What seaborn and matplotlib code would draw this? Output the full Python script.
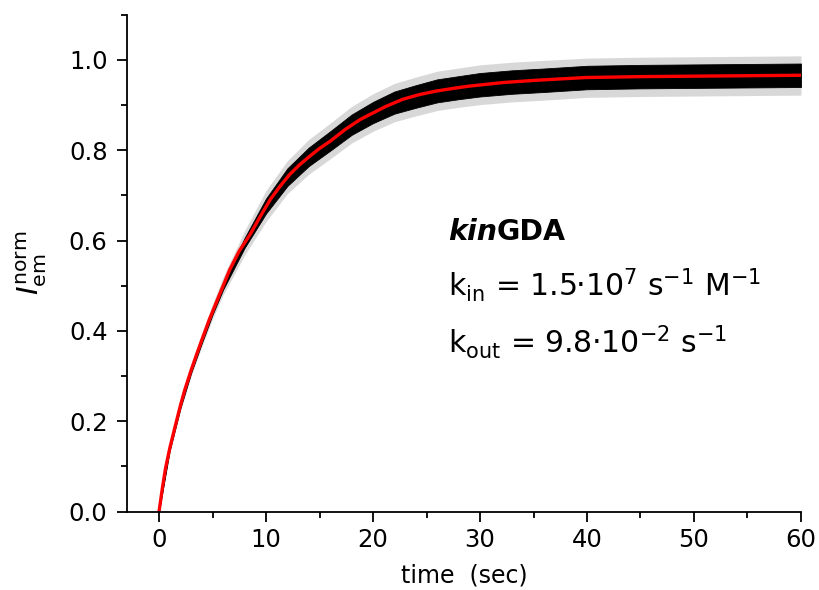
import matplotlib
matplotlib.use("Agg")
import matplotlib.pyplot as plt
import seaborn as sns
from matplotlib.ticker import MultipleLocator

# ---- data ----
t_fit = [0, 0.3, 0.6, 1.0, 1.5, 2.0, 2.4, 3.0, 3.5, 4.0, 4.7, 5.3, 6.1, 6.6, 7.5, 8.5,
         9.5, 10.4, 11.3, 12.2, 13.1, 14.1, 15.0, 16.0, 17.4, 18.8, 19.7, 21.2, 22.8,
         24.3, 25.9, 27.5, 29.0, 30.6, 32.2, 35.3, 39.9, 45.0, 50.0, 55.0, 60.0]
v_fit = [0.0, 0.050, 0.095, 0.140, 0.188, 0.235, 0.269, 0.313, 0.347, 0.380, 0.425,
         0.460, 0.506, 0.535, 0.577, 0.613, 0.655, 0.691, 0.720, 0.746, 0.767, 0.787,
         0.804, 0.820, 0.846, 0.868, 0.879, 0.897, 0.913, 0.923, 0.931, 0.937, 0.942,
         0.946, 0.950, 0.955, 0.961, 0.963, 0.964, 0.965, 0.966]

t_env = [0, 1, 2, 3, 4, 5, 6, 8, 10, 12, 14, 16, 18, 20, 22, 24, 26, 28, 30, 33, 36,
         40, 45, 50, 55, 60]
# dense black core of the noisy trace
v_hi = [0.004, 0.145, 0.241, 0.319, 0.387, 0.450, 0.508, 0.606, 0.693, 0.760, 0.806,
        0.842, 0.879, 0.907, 0.930, 0.944, 0.957, 0.964, 0.971, 0.977, 0.981, 0.987,
        0.989, 0.990, 0.991, 0.992]
v_lo = [0.000, 0.135, 0.229, 0.307, 0.373, 0.436, 0.492, 0.584, 0.660, 0.721, 0.765,
        0.799, 0.834, 0.860, 0.881, 0.894, 0.906, 0.913, 0.919, 0.925, 0.929, 0.935,
        0.937, 0.938, 0.939, 0.940]
# extent of the sparse grey spikes
v_spike_hi = [0.006, 0.150, 0.247, 0.326, 0.395, 0.460, 0.520, 0.622, 0.711, 0.777,
              0.824, 0.860, 0.897, 0.925, 0.948, 0.962, 0.975, 0.982, 0.989, 0.995,
              0.999, 1.004, 1.006, 1.007, 1.008, 1.009]
v_spike_lo = [0.000, 0.130, 0.223, 0.300, 0.365, 0.426, 0.480, 0.568, 0.642, 0.704,
              0.747, 0.781, 0.816, 0.842, 0.863, 0.876, 0.888, 0.895, 0.901, 0.907,
              0.911, 0.917, 0.919, 0.920, 0.921, 0.922]

x_ticks = [0, 10, 20, 30, 40, 50, 60]
y_ticks = [0.0, 0.2, 0.4, 0.6, 0.8, 1.0]

sns.set_theme(style="ticks")
plt.rcParams['font.family'] = ['DejaVu Sans']
plt.rcParams['mathtext.fontset'] = 'dejavusans'
for k in ['text.color', 'axes.labelcolor', 'xtick.color', 'ytick.color', 'axes.edgecolor']:
    plt.rcParams[k] = 'black'

W, H = 819, 590
fig = plt.figure(figsize=(W / 100, H / 100), dpi=100)
ax = fig.add_axes([0.155, 0.133, 0.823, 0.842])

ax.fill_between(t_env, v_spike_lo, v_spike_hi, color='#d8d8d8', lw=0)
ax.fill_between(t_env, v_lo, v_hi, facecolor='black', lw=0.6, edgecolor='black')
sns.lineplot(x=t_fit, y=v_fit, ax=ax, color='#ff0000', lw=2.4, estimator=None, sort=False)

ax.set_xlim(-3, 60)
ax.set_ylim(0, 1.1)
ax.set_xticks(x_ticks)
ax.set_yticks(y_ticks)
ax.set_yticklabels([f"{v:.1f}" for v in y_ticks])
ax.xaxis.set_minor_locator(MultipleLocator(5))
ax.yaxis.set_minor_locator(MultipleLocator(0.1))

for s in ['top', 'right']:
    ax.spines[s].set_visible(False)
for s in ['left', 'bottom']:
    ax.spines[s].set_linewidth(1.3)
    ax.spines[s].set_color('black')

ax.tick_params(axis='x', which='major', direction='out', length=7, width=1.3,
               labelsize=17.5, colors='black', pad=5)
ax.tick_params(axis='y', which='major', direction='out', length=7, width=1.3,
               labelsize=17.5, colors='black', pad=7)
ax.tick_params(axis='both', which='minor', direction='out', length=4, width=1.3,
               colors='black')

ax.set_xlabel('time  (sec)', fontsize=17, labelpad=8)
ax.set_ylabel(r'$\mathit{I}_{\mathrm{em}}^{\mathrm{norm}}$', fontsize=21, labelpad=14)


def fx(x):
    return x / W


def fy(y):
    return 1 - y / H


t1 = fig.text(fx(448), fy(240), 'kin', fontsize=20.5, fontweight='bold',
              fontstyle='italic', va='baseline', ha='left')
renderer = fig.canvas.get_renderer()
bb = t1.get_window_extent(renderer=renderer)
fig.text(bb.x1 / W, fy(240), 'GDA', fontsize=20.5, fontweight='bold',
         va='baseline', ha='left')
fig.text(fx(448), fy(296), 'k$_{\\mathrm{in}}$ = 1.5\u00b710$^{7}$ s$^{-1}$ M$^{-1}$',
         fontsize=21.5, va='baseline', ha='left')
fig.text(fx(448), fy(353), 'k$_{\\mathrm{out}}$ = 9.8\u00b710$^{-2}$ s$^{-1}$',
         fontsize=21.5, va='baseline', ha='left')

fig.savefig('out.png', dpi=100, facecolor='white')
